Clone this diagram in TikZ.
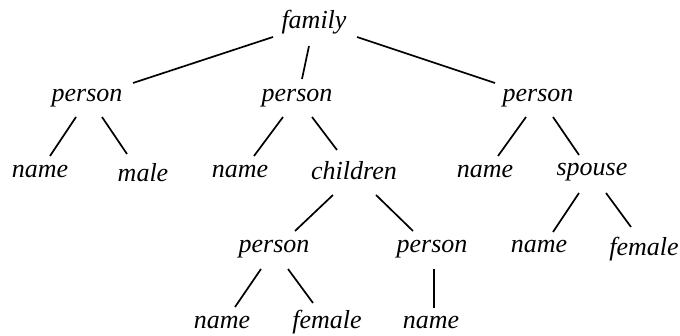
\documentclass[tikz,border=0pt]{standalone}
\usepackage{fontspec}
\setmainfont{Liberation Serif}
\begin{document}
\begin{tikzpicture}[x=1pt,y=1pt,
  lbl/.style={anchor=base,inner sep=0pt,font=\fontsize{26}{30}\selectfont\itshape},
  edge/.style={line width=1.7pt}]
\useasboundingbox (0,0) rectangle (680,336);
% nodes: (center x, 336 - baseline)
\node[lbl] (fam) at (314,307) {family};
\node[lbl] (pL)  at (87,234)  {person};
\node[lbl] (pM)  at (297,234) {person};
\node[lbl] (pR)  at (538,234) {person};
\node[lbl] (nL)  at (40,158)  {name};
\node[lbl] (mL)  at (143,154) {male};
\node[lbl] (nM)  at (240,158) {name};
\node[lbl] (ch)  at (354,156) {children};
\node[lbl] (nR)  at (485,158) {name};
\node[lbl] (sp)  at (592,160) {spouse};
\node[lbl] (pCL) at (274,83)  {person};
\node[lbl] (pCR) at (432,83)  {person};
\node[lbl] (nS)  at (539,83)  {name};
\node[lbl] (fS)  at (644,80)  {female};
\node[lbl] (nB)  at (222,7)   {name};
\node[lbl] (fB)  at (327,7)   {female};
\node[lbl] (nBR) at (431,7)   {name};
% connectors
\draw[edge] ([shift={(-41pt,-8pt)}]fam.base) -- ([shift={(46pt,19pt)}]pL.base);
\draw[edge] ([shift={(-5pt,-17pt)}]fam.base) -- ([shift={(5pt,23pt)}]pM.base);
\draw[edge] ([shift={(43pt,-8pt)}]fam.base) -- ([shift={(-43pt,19pt)}]pR.base);
\draw[edge] ([shift={(-11pt,-15pt)}]pL.base) -- ([shift={(10pt,22pt)}]nL.base);
\draw[edge] ([shift={(15pt,-15pt)}]pL.base) -- ([shift={(-16pt,28pt)}]mL.base);
\draw[edge] ([shift={(-14pt,-15pt)}]pM.base) -- ([shift={(14pt,22pt)}]nM.base);
\draw[edge] ([shift={(15pt,-15pt)}]pM.base) -- ([shift={(-17pt,30pt)}]ch.base);
\draw[edge] ([shift={(-12pt,-15pt)}]pR.base) -- ([shift={(13pt,22pt)}]nR.base);
\draw[edge] ([shift={(15pt,-15pt)}]pR.base) -- ([shift={(-13pt,21pt)}]sp.base);
\draw[edge] ([shift={(-21pt,-15pt)}]ch.base) -- ([shift={(21pt,22pt)}]pCL.base);
\draw[edge] ([shift={(22pt,-15pt)}]ch.base) -- ([shift={(-19pt,22pt)}]pCR.base);
\draw[edge] ([shift={(-13pt,-17pt)}]sp.base) -- ([shift={(14pt,21pt)}]nS.base);
\draw[edge] ([shift={(14pt,-17pt)}]sp.base) -- ([shift={(-13pt,29pt)}]fS.base);
\draw[edge] ([shift={(-13pt,-16pt)}]pCL.base) -- ([shift={(13pt,22pt)}]nB.base);
\draw[edge] ([shift={(14pt,-16pt)}]pCL.base) -- ([shift={(-14pt,26pt)}]fB.base);
\draw[edge] ([shift={(2pt,-16pt)}]pCR.base) -- ([shift={(3pt,21pt)}]nBR.base);
\end{tikzpicture}
\end{document}
